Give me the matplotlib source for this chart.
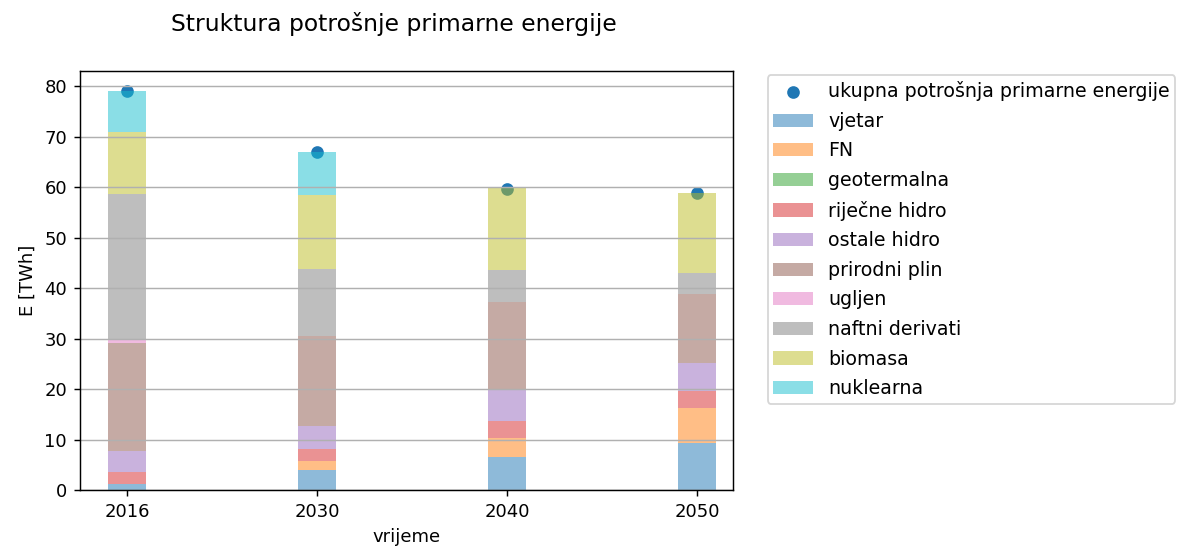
import numpy as np
import matplotlib.pyplot as plt

# godine i izvori
years = ['2016', '2030', '2040', '2050']
sources = ['vjetar', 'FN', 'geotermalna', 'riječne hidro', 'ostale hidro',
           'prirodni plin', 'ugljen', 'naftni derivati', 'biomasa', 'nuklearna']

vjetar = [1.2, 3.9, 6.6, 9.3]
fn = [0.0, 1.9, 3.7, 7.0]
geotermalna = [0.0, 0.0, 0.0, 0.0]
rijecne_hidro = [2.3, 2.3, 3.3, 3.3]
ostale_hidro = [4.3, 4.6, 6.3, 5.6]
prirodni_plin = [21.3, 17.9, 17.4, 13.6]
ugljen = [0.8, 0.0, 0.0, 0.0]
naftni_derivati = [28.7, 13.2, 6.2, 4.2]
biomasa = [12.4, 14.7, 16.4, 15.9]
nuklearna = [8.1, 8.5, 0.0, 0.0]

ukupno = [79.0, 67.0, 59.7, 58.9]

series = [vjetar, fn, geotermalna, rijecne_hidro, ostale_hidro,
          prirodni_plin, ugljen, naftni_derivati, biomasa, nuklearna]

x = np.arange(len(years))
width = 0.2

fig = plt.figure(figsize=(1190/130, 550/130), dpi=130)
ax = fig.add_axes([0.067, 0.109, 0.549, 0.762])

ax.scatter(x, ukupno, color='C0', label='ukupna potrošnja primarne energije')

bottom = np.zeros(len(years))
for i, (name, vals) in enumerate(zip(sources, series)):
    ax.bar(x, vals, width, bottom=bottom, color='C%d' % i, alpha=0.5, label=name)
    bottom += np.array(vals)

ax.set_xticks(x)
ax.set_xticklabels(years)
ax.set_xlim(-0.25, 3.19)
ax.set_ylim(0, 83)
ax.grid(axis='y')
ax.set_xlabel('vrijeme')
ax.set_ylabel('E [TWh]')

fig.suptitle('Struktura potrošnje primarne energije', x=0.331, y=0.978, fontsize=13)
ax.legend(loc='upper left', bbox_to_anchor=(0.637, 0.88),
          bbox_transform=fig.transFigure, scatterpoints=1, fontsize=10.5,
          labelspacing=0.56, handlelength=2.1, handletextpad=0.8, borderpad=0.3)

fig.savefig('out.png', dpi=130)
